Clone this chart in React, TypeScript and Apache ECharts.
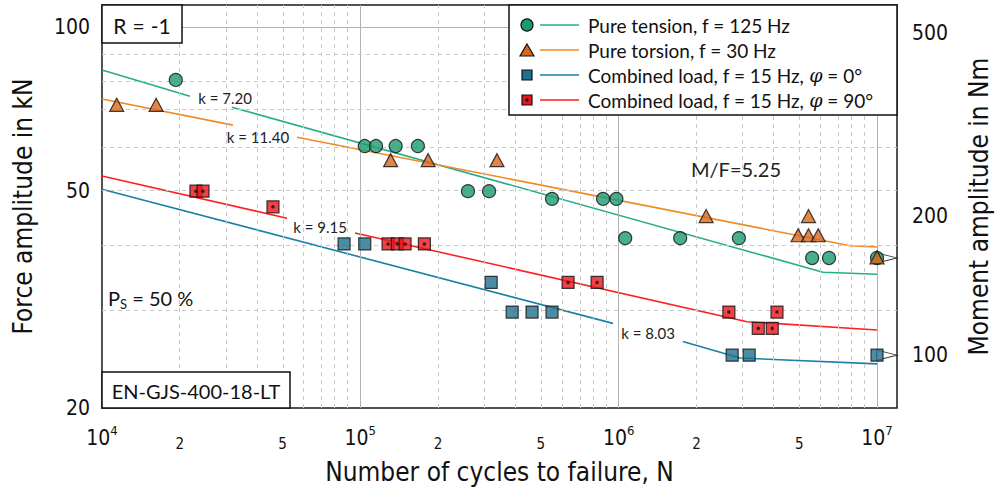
import React, { useEffect, useRef } from 'react';
import * as echarts from 'echarts';

// ---------- data (N in cycles, F in kN) ----------
const TENSION_N = [1.93e4, 1.04e5, 1.15e5, 1.37e5, 1.67e5, 2.61e5, 3.15e5, 5.52e5, 8.7e5, 9.8e5, 1.06e6, 1.73e6, 2.92e6, 5.61e6, 6.52e6, 1e7];
const TENSION_F = [80, 60.5, 60.5, 60.5, 60.5, 50, 50, 48.4, 48.4, 48.4, 41, 41, 41, 37.7, 37.7, 37.7];

const TORSION_N = [1.14e4, 1.62e4, 1.31e5, 1.83e5, 3.38e5, 2.18e6, 4.95e6, 5.43e6, 5.43e6, 5.92e6, 1e7];
const TORSION_F = [72, 72, 57, 57, 57, 45, 41.5, 45, 41.5, 41.5, 37.8];

const COMB0_N = [8.65e4, 1.04e5, 3.21e5, 3.87e5, 4.62e5, 5.52e5, 2.75e6, 3.2e6, 1e7];
const COMB0_F = [40, 40, 34, 30, 30, 30, 25, 25, 25];

const COMB90_N = [2.31e4, 2.46e4, 4.59e4, 1.28e5, 1.39e5, 1.49e5, 1.77e5, 6.37e5, 8.25e5, 2.67e6, 4.1e6, 3.47e6, 3.93e6];
const COMB90_F = [50, 50, 46.8, 40, 40, 40, 40, 34, 34, 30, 30, 28, 28];

// run-outs (arrows)
const RUNOUT_N = [1e7, 1e7];
const RUNOUT_F = [37.7, 25];

// fitted S-N curves: first two points = segment before the k label gap, rest = after
const TENSION_FIT_N = [1e4, 2.19e4, 3.18e4, 6.18e6, 1e7];
const TENSION_FIT_F = [83.4, 74.7, 71.3, 35.5, 35.2];
const TORSION_FIT_N = [1e4, 3.21e4, 5.69e4, 7.87e6, 1e7];
const TORSION_FIT_F = [73.8, 66.1, 62.8, 39.7, 39.5];
const COMB90_FIT_N = [1e4, 5.2e4, 9.54e4, 3.14e6, 1e7];
const COMB90_FIT_F = [53.3, 44.6, 41.9, 28.8, 27.8];
const COMB0_FIT_N = [1e4, 9.5e5, 1.77e6, 2.95e6, 1e7];
const COMB0_FIT_F = [50.4, 28.6, 26.5, 24.7, 24.1];

// axes
const X_MIN = 1e4;
const X_MAX = 1.195e7;
const X_TICKS = [1e4, 2e4, 5e4, 1e5, 2e5, 5e5, 1e6, 2e6, 5e6, 1e7];
const X_DECADES = [1e4, 1e5, 1e6];
const X_MAJOR = [1e5, 1e6, 1e7];
const MINOR_MULT = [2, 3, 4, 5, 6, 7, 8, 9];
const Y_MIN = 20;
const Y_MAX = 109.8;
const Y_TICKS = [20, 50, 100];
const Y_MINOR = [30, 40, 50, 60, 70, 80, 90];
const Y_MAJOR = [100];
const Y2_MIN = 76.7;
const Y2_MAX = 575;
const Y2_TICKS = [100, 200, 500];

const K_LABELS = ['k = 7.20', 'k = 11.40', 'k = 9.15', 'k = 8.03'];

// ---------- styles ----------
const NARROW = '"Liberation Sans Narrow", "DejaVu Sans Condensed", sans-serif';
const SANS = 'Lato, "Open Sans", sans-serif';
const C_TEN_LINE = '#25ad8a';
const C_TEN_FILL = '#1c9a70';
const C_TOR_LINE = '#f08a24';
const C_TOR_FILL = '#d9661c';
const C_C0_LINE = '#1a80a6';
const C_C0_FILL = '#1f6f8f';
const C_C90_LINE = '#ff1f1f';
const C_C90_FILL = '#e8141c';

const lg = Math.log10;
const pts = (N: number[], F: number[]) => N.map((n, i) => [lg(n), lg(F[i])]);

function fitSeries(N: number[], F: number[], color: string) {
  const all = pts(N, F);
  const seg1 = all.slice(0, 2);
  const seg2 = all.slice(2);
  return [seg1, seg2].map((d) => ({
    type: 'line',
    data: d,
    showSymbol: false,
    symbol: 'none',
    silent: true,
    z: 3,
    lineStyle: { color, width: 1.6 },
  }));
}

function fmtX(v: number) {
  const r = Math.round(v);
  if (Math.abs(v - r) < 1e-6) return `{b|10}{s|${r}}`;
  const m = Math.round(Math.pow(10, v) / Math.pow(10, Math.floor(v)));
  return `{m|${m}}`;
}

const gridLines: any[] = [];
X_DECADES.forEach((d) => {
  MINOR_MULT.forEach((k) => {
    gridLines.push({ xAxis: lg(k * d), lineStyle: { color: '#c9c9c9', type: [4, 4], width: 1 } });
  });
});
X_MAJOR.forEach((d) => gridLines.push({ xAxis: lg(d), lineStyle: { color: '#b3b3b3', type: 'solid', width: 1 } }));
Y_MINOR.forEach((v) => gridLines.push({ yAxis: lg(v), lineStyle: { color: '#c9c9c9', type: [4, 4], width: 1 } }));
Y_MAJOR.forEach((v) => gridLines.push({ yAxis: lg(v), lineStyle: { color: '#b3b3b3', type: 'solid', width: 1 } }));

const markerBorder = { borderColor: '#111', borderWidth: 1.2 };
const center = { align: 'center', verticalAlign: 'middle', textAlign: 'center', textVerticalAlign: 'middle' };
const leftMid = { align: 'left', verticalAlign: 'middle', textAlign: 'left', textVerticalAlign: 'middle' };
const LEG_FS = 19;

const option: any = {
  animation: false,
  grid: {
    left: 102,
    top: 5,
    width: 795,
    height: 403,
    show: true,
    borderColor: '#1a1a1a',
    borderWidth: 1.5,
    backgroundColor: 'rgba(0,0,0,0)',
    containLabel: false,
    outerBoundsMode: 'none',
  },
  xAxis: {
    type: 'value',
    min: lg(X_MIN),
    max: lg(X_MAX),
    axisLine: { show: false },
    axisTick: { show: false },
    splitLine: { show: false },
    axisLabel: {
      customValues: X_TICKS.map(lg),
      margin: 16,
      color: '#111',
      formatter: fmtX,
      rich: {
        b: { fontSize: 21, fontFamily: NARROW, color: '#111' },
        s: { fontSize: 13, fontFamily: NARROW, color: '#111', padding: [0, 0, 14, 0] },
        m: { fontSize: 15, fontFamily: NARROW, color: '#111', padding: [12, 0, 0, 0] },
      },
    },
    name: 'Number of cycles to failure, N',
    nameLocation: 'middle',
    nameGap: 51,
    nameTextStyle: { fontSize: 26, fontFamily: NARROW, color: '#111' },
  },
  yAxis: [
    {
      type: 'value',
      min: lg(Y_MIN),
      max: lg(Y_MAX),
      axisLine: { show: false },
      axisTick: { show: false },
      splitLine: { show: false },
      axisLabel: {
        customValues: Y_TICKS.map(lg),
        margin: 12,
        fontSize: 21,
        fontFamily: NARROW,
        color: '#111',
        formatter: (v: number) => String(Math.round(Math.pow(10, v))),
      },
      name: 'Force amplitude in kN',
      nameLocation: 'middle',
      nameRotate: 90,
      nameGap: 66,
      nameTextStyle: { fontSize: 26, fontFamily: NARROW, color: '#111' },
    },
    {
      type: 'value',
      position: 'right',
      min: lg(Y2_MIN),
      max: lg(Y2_MAX),
      axisLine: { show: false },
      axisTick: { show: false },
      splitLine: { show: false },
      axisLabel: {
        customValues: Y2_TICKS.map(lg),
        margin: 15,
        fontSize: 21,
        fontFamily: NARROW,
        color: '#111',
        formatter: (v: number) => String(Math.round(Math.pow(10, v))),
      },
      name: 'Moment amplitude in Nm',
      nameLocation: 'middle',
      nameRotate: 90,
      nameGap: 69,
      nameTextStyle: { fontSize: 26, fontFamily: NARROW, color: '#111' },
    },
  ],
  series: [
    {
      type: 'line',
      data: [],
      silent: true,
      z: 1,
      markLine: {
        symbol: 'none',
        silent: true,
        label: { show: false },
        emphasis: { disabled: true },
        data: gridLines,
      },
    },
    ...fitSeries(TENSION_FIT_N, TENSION_FIT_F, C_TEN_LINE),
    ...fitSeries(TORSION_FIT_N, TORSION_FIT_F, C_TOR_LINE),
    ...fitSeries(COMB90_FIT_N, COMB90_FIT_F, C_C90_LINE),
    ...fitSeries(COMB0_FIT_N, COMB0_FIT_F, C_C0_LINE),
    {
      type: 'scatter',
      data: pts(RUNOUT_N, RUNOUT_F),
      symbol: 'path://M0,0 L20,5 L0,10 Z',
      symbolSize: [20, 10],
      symbolOffset: [10, 0],
      z: 4,
      itemStyle: { color: '#fff', borderColor: '#111', borderWidth: 1.2 },
    },
    {
      name: 'Pure tension',
      type: 'scatter',
      data: pts(TENSION_N, TENSION_F),
      symbol: 'circle',
      symbolSize: 13,
      z: 5,
      itemStyle: { color: C_TEN_FILL, ...markerBorder },
    },
    {
      name: 'Pure torsion',
      type: 'scatter',
      data: pts(TORSION_N, TORSION_F),
      symbol: 'triangle',
      symbolSize: [14, 13],
      z: 6,
      itemStyle: { color: C_TOR_FILL, ...markerBorder },
    },
    {
      name: 'Combined 0',
      type: 'scatter',
      data: pts(COMB0_N, COMB0_F),
      symbol: 'rect',
      symbolSize: 12,
      z: 7,
      itemStyle: { color: C_C0_FILL, ...markerBorder },
    },
    {
      name: 'Combined 90',
      type: 'scatter',
      data: pts(COMB90_N, COMB90_F),
      symbol: 'rect',
      symbolSize: 12,
      z: 8,
      itemStyle: { color: C_C90_FILL, ...markerBorder },
    },
    {
      type: 'scatter',
      data: pts(COMB90_N, COMB90_F),
      symbol: 'circle',
      symbolSize: 3.5,
      z: 9,
      silent: true,
      itemStyle: { color: '#111' },
    },
  ],
  graphic: [
    // legend box
    { type: 'rect', z: 100, shape: { x: 509, y: 5, width: 388, height: 110 }, style: { fill: '#fff', stroke: '#111', lineWidth: 1.5 } },
    { type: 'circle', z: 101, shape: { cx: 527, cy: 25, r: 6 }, style: { fill: C_TEN_FILL, stroke: '#111', lineWidth: 1.2 } },
    { type: 'line', z: 101, shape: { x1: 540, y1: 25, x2: 579, y2: 25 }, style: { stroke: C_TEN_LINE, lineWidth: 1.6 } },
    { type: 'polygon', z: 101, shape: { points: [[527, 44], [534, 56], [520, 56]] }, style: { fill: C_TOR_FILL, stroke: '#111', lineWidth: 1.2 } },
    { type: 'line', z: 101, shape: { x1: 540, y1: 50, x2: 579, y2: 50 }, style: { stroke: C_TOR_LINE, lineWidth: 1.6 } },
    { type: 'rect', z: 101, shape: { x: 522, y: 70, width: 10, height: 10 }, style: { fill: C_C0_FILL, stroke: '#111', lineWidth: 1.2 } },
    { type: 'line', z: 101, shape: { x1: 540, y1: 75, x2: 579, y2: 75 }, style: { stroke: C_C0_LINE, lineWidth: 1.6 } },
    { type: 'rect', z: 101, shape: { x: 522, y: 95, width: 10, height: 10 }, style: { fill: C_C90_FILL, stroke: '#111', lineWidth: 1.2 } },
    { type: 'circle', z: 102, shape: { cx: 527, cy: 100, r: 1.6 }, style: { fill: '#111' } },
    { type: 'line', z: 101, shape: { x1: 540, y1: 100, x2: 579, y2: 100 }, style: { stroke: C_C90_LINE, lineWidth: 1.6 } },
    {
      type: 'text', z: 101, x: 588, y: 25,
      style: { text: 'Pure tension, f = 125 Hz', font: `${LEG_FS}px ${SANS}`, fill: '#111', ...leftMid },
    },
    {
      type: 'text', z: 101, x: 588, y: 50,
      style: { text: 'Pure torsion, f = 30 Hz', font: `${LEG_FS}px ${SANS}`, fill: '#111', ...leftMid },
    },
    {
      type: 'text', z: 101, x: 588, y: 75,
      style: {
        text: '{t|Combined load, f = 15 Hz, }{i|φ}{t| = 0°}',
        rich: { t: { fontSize: LEG_FS, fontFamily: SANS, fill: '#111' }, i: { fontSize: LEG_FS, fontFamily: 'DejaVu Serif', fontStyle: 'italic', fill: '#111' } },
        font: `${LEG_FS}px ${SANS}`, fill: '#111', ...leftMid,
      },
    },
    {
      type: 'text', z: 101, x: 588, y: 100,
      style: {
        text: '{t|Combined load, f = 15 Hz, }{i|φ}{t| = 90°}',
        rich: { t: { fontSize: LEG_FS, fontFamily: SANS, fill: '#111' }, i: { fontSize: LEG_FS, fontFamily: 'DejaVu Serif', fontStyle: 'italic', fill: '#111' } },
        font: `${LEG_FS}px ${SANS}`, fill: '#111', ...leftMid,
      },
    },
    // R = -1 box
    { type: 'rect', z: 100, shape: { x: 102, y: 5, width: 80, height: 38 }, style: { fill: '#fff', stroke: '#111', lineWidth: 1.5 } },
    {
      type: 'text', z: 101, x: 142, y: 25,
      style: {
        text: '{a|R}{e|=}{a|-1}',
        rich: {
          a: { fontSize: 21, fontFamily: SANS, fill: '#111' },
          e: { fontSize: 21, fontFamily: SANS, fill: '#111', padding: [0, 6, 0, 6] },
        },
        fill: '#111', ...center,
      },
    },
    // material box
    { type: 'rect', z: 100, shape: { x: 102, y: 372, width: 188, height: 36 }, style: { fill: '#fff', stroke: '#111', lineWidth: 1.5 } },
    {
      type: 'text', z: 101, x: 196, y: 391,
      style: { text: 'EN-GJS-400-18-LT', font: `20px ${SANS}`, fill: '#111', ...center },
    },
    // Ps = 50 %
    {
      type: 'text', z: 101, x: 108, y: 298,
      style: {
        text: '{a|P}{sub|S}{a| = 50 %}',
        rich: { a: { fontSize: 20, fontFamily: SANS, fill: '#111' }, sub: { fontSize: 13, fontFamily: SANS, fill: '#111', padding: [12, 0, 0, 0] } },
        fill: '#111', ...leftMid,
      },
    },
    // M/F
    {
      type: 'text', z: 101, x: 736, y: 169,
      style: { text: 'M/F=5.25', font: `20px ${SANS}`, fill: '#222', ...center },
    },
    // k labels
    { type: 'text', z: 101, x: 225, y: 98, style: { text: K_LABELS[0], font: `15px ${SANS}`, fill: '#222', ...center } },
    { type: 'text', z: 101, x: 258, y: 137, style: { text: K_LABELS[1], font: `15px ${SANS}`, fill: '#222', ...center } },
    { type: 'text', z: 101, x: 320, y: 227, style: { text: K_LABELS[2], font: `15px ${SANS}`, fill: '#222', ...center } },
    { type: 'text', z: 101, x: 648, y: 333, style: { text: K_LABELS[3], font: `15px ${SANS}`, fill: '#222', ...center } },
  ],
};

export default function App() {
  const ref = useRef<HTMLDivElement>(null);
  useEffect(() => {
    document.body.style.margin = '0';
    const chart = echarts.init(ref.current as HTMLDivElement, null, { renderer: 'svg' });
    chart.setOption(option);
    return () => chart.dispose();
  }, []);
  return <div ref={ref} style={{ width: 995, height: 492, background: '#fff' }} />;
}
